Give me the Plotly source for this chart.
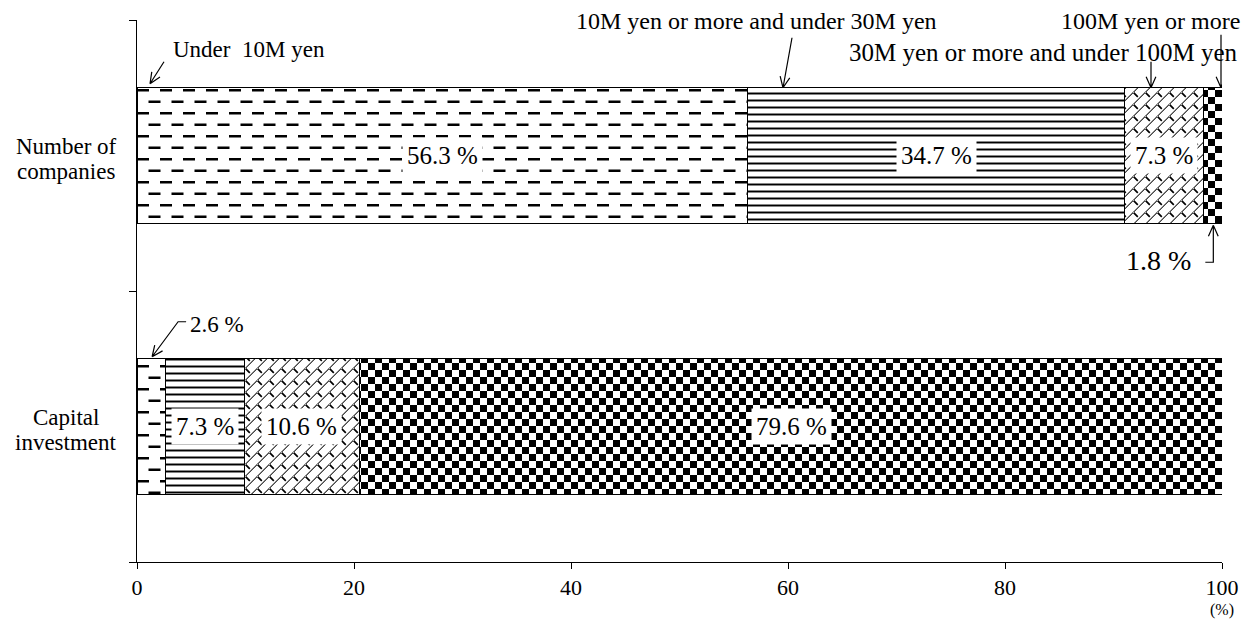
import math
import plotly.graph_objects as go

# ---------------- data ----------------
categories = ["Capital investment", "Number of companies"]
category_labels = [["Capital", "investment"], ["Number of", "companies"]]
series_names = [
    "Under 10M yen",
    "10M yen or more and under 30M yen",
    "30M yen or more and under 100M yen",
    "100M yen or more",
]
under_10m = [2.6, 56.3]
from_10m_to_30m = [7.3, 34.7]
from_30m_to_100m = [10.6, 7.3]
over_100m = [79.6, 1.8]
x_tick_values = [0, 20, 40, 60, 80, 100]
x_unit_label = "(%)"

series_values = [under_10m, from_10m_to_30m, from_30m_to_100m, over_100m]

# ---------------- layout constants ----------------
W, H = 1254, 620
M_L, M_R, M_T, M_B = 137, 32, 20, 58
PLOT_W = W - M_L - M_R
PLOT_H = H - M_T - M_B
Y_RANGE = [-0.5, 1.5]
X_RANGE = [0, 100]
BAR_WIDTH = 0.5
FONT = "Liberation Serif, Times New Roman, serif"


def cat_paper(v):
    return (v - Y_RANGE[0]) / (Y_RANGE[1] - Y_RANGE[0])


def px_paper_y(py):
    return (M_T + PLOT_H - py) / PLOT_H


def px_paper_x(px):
    return (px - M_L) / PLOT_W


def px_data_x(px):
    return X_RANGE[0] + (px - M_L) / PLOT_W * (X_RANGE[1] - X_RANGE[0])


patterns = [
    dict(path="M0,0H12V2.4H0Z M11.5,11.5H23V13.9H11.5Z M0,11.5H0.5V13.9H0Z", size=23),
    dict(shape="-", size=7, solidity=0.28),
    dict(path="M0,12L12,0L12,1.2L1.2,12Z M0,1.2L1.2,0L5.4,4.2L4.2,5.4Z", size=12),
    dict(path="M0,0H7V7H0Z M7,7H14V14H7Z", size=14),
]

fig = go.Figure()
for name, vals, pat in zip(series_names, series_values, patterns):
    fig.add_trace(go.Bar(
        y=categories, x=vals, name=name, orientation="h", width=BAR_WIDTH,
        marker=dict(color="white", line=dict(color="black", width=1),
                    pattern=dict(fgcolor="black", bgcolor="white", fgopacity=1,
                                 fillmode="replace", **pat)),
        showlegend=False, hoverinfo="x+name",
    ))

annotations = []
shapes = []

# in-bar value labels (white boxes)
for j, cat in enumerate(categories):
    start = 0.0
    for vals in series_values:
        v = vals[j]
        if v >= 5:
            annotations.append(dict(
                x=start + v / 2, y=cat_paper(j), xref="x", yref="paper",
                xanchor="center", yanchor="middle",
                text=f"{v} %", showarrow=False, bgcolor="white", borderpad=4,
                font=dict(family=FONT, size=25, color="black"),
            ))
        start += v

# category labels (centered, two lines, tight line spacing)
for j, lines in enumerate(category_labels):
    n = len(lines)
    for k, line in enumerate(lines):
        annotations.append(dict(
            x=px_paper_x(66), y=cat_paper(j), xref="paper", yref="paper",
            text=line, showarrow=False, xanchor="center", yanchor="middle",
            yshift=-3 + ((n - 1) / 2 - k) * 25,
            font=dict(family=FONT, size=23, color="black"),
        ))


def arrow(anchor_x, anchor_y, pts, head=12, ang=24):
    """pts: image-pixel offsets (y down) relative to anchor, last point is tip."""
    d = "M%.2f,%.2f" % (pts[0][0], -pts[0][1])
    for p in pts[1:]:
        d += " L%.2f,%.2f" % (p[0], -p[1])
    (x1, y1), (x2, y2) = pts[-2], pts[-1]
    th = math.atan2(y1 - y2, x1 - x2)
    for s in (-1, 1):
        a = th + s * math.radians(ang)
        hx, hy = x2 + head * math.cos(a), y2 + head * math.sin(a)
        d += " M%.2f,%.2f L%.2f,%.2f" % (hx, -hy, x2, -y2)
    shapes.append(dict(
        type="path", xref="x", yref="paper", xsizemode="pixel", ysizemode="pixel",
        xanchor=anchor_x, yanchor=anchor_y, path=d,
        line=dict(color="black", width=1.2),
    ))


top_j = categories.index("Number of companies")
bot_j = categories.index("Capital investment")
top_edge_top = cat_paper(top_j + BAR_WIDTH / 2)
top_edge_bot = cat_paper(top_j - BAR_WIDTH / 2)
bot_edge_top = cat_paper(bot_j + BAR_WIDTH / 2)

# series labels above the top bar
arrow(px_data_x(150), top_edge_top, [(14, -26), (0, -4)])
arrow(px_data_x(783), top_edge_top, [(9, -50), (0, 0)])
arrow(px_data_x(1151), top_edge_top, [(0, -26), (0, 0)])
arrow(px_data_x(1221), top_edge_top, [(0, -53), (0, 0)])

lab_font = dict(family=FONT, size=24, color="black")
annotations += [
    dict(x=px_paper_x(171), y=px_paper_y(49), xref="paper", yref="paper", text="Under  10M yen",
         showarrow=False, xanchor="left", yanchor="middle",
         font=dict(family=FONT, size=23, color="black")),
    dict(x=px_paper_x(756), y=px_paper_y(21), xref="paper", yref="paper",
         text="10M yen or more and under 30M yen",
         showarrow=False, xanchor="center", yanchor="middle", font=lab_font),
    dict(x=px_paper_x(1240), y=px_paper_y(53), xref="paper", yref="paper",
         text="30M yen or more and under 100M yen",
         showarrow=False, xanchor="right", yanchor="middle",
         font=dict(family=FONT, size=25, color="black")),
    dict(x=px_paper_x(1242), y=px_paper_y(21), xref="paper", yref="paper", text="100M yen or more",
         showarrow=False, xanchor="right", yanchor="middle", font=lab_font),
]

# small-value outside labels
small_top = over_100m[top_j]
small_top_x = sum(v[top_j] for v in series_values[:3]) + small_top / 2
arrow(small_top_x, top_edge_bot, [(-8, 39), (0, 39), (0, 2)])
annotations.append(dict(
    x=px_paper_x(1193), y=px_paper_y(260), xref="paper", yref="paper", text=f"{small_top} %",
    showarrow=False, xanchor="right", yanchor="middle",
    font=dict(family=FONT, size=28, color="black")))

small_bot = under_10m[bot_j]
small_bot_x = small_bot / 2
arrow(small_bot_x, bot_edge_top, [(35, -37), (27, -37), (1, -2)])
annotations.append(dict(
    x=px_paper_x(188), y=px_paper_y(324), xref="paper", yref="paper", text=f"{small_bot} %",
    showarrow=False, xanchor="left", yanchor="middle",
    font=dict(family=FONT, size=23, color="black")))

# unit label
annotations.append(dict(
    x=X_RANGE[1], y=px_paper_y(620), xref="x", yref="paper", text=x_unit_label,
    showarrow=False, xanchor="center", yanchor="bottom", borderpad=0,
    font=dict(family=FONT, size=16, color="black")))

fig.update_layout(
    width=W, height=H, barmode="stack", bargap=0.5,
    margin=dict(l=M_L, r=M_R, t=M_T, b=M_B, autoexpand=False),
    paper_bgcolor="white", plot_bgcolor="white",
    font=dict(family=FONT, color="black"),
    annotations=annotations, shapes=shapes,
    xaxis=dict(range=X_RANGE, tickvals=x_tick_values, ticks="outside", ticklen=6,
               tickcolor="black", showline=True, linecolor="black", linewidth=1,
               showgrid=False, zeroline=False,
               tickfont=dict(family=FONT, size=22, color="black")),
    yaxis=dict(type="category", categoryorder="array", categoryarray=categories,
               range=Y_RANGE, ticks="outside", ticklen=7, tickson="boundaries",
               tickcolor="black", showline=True, linecolor="black", linewidth=1,
               showgrid=False, zeroline=False, showticklabels=False),
)

fig.write_html("out.html")
